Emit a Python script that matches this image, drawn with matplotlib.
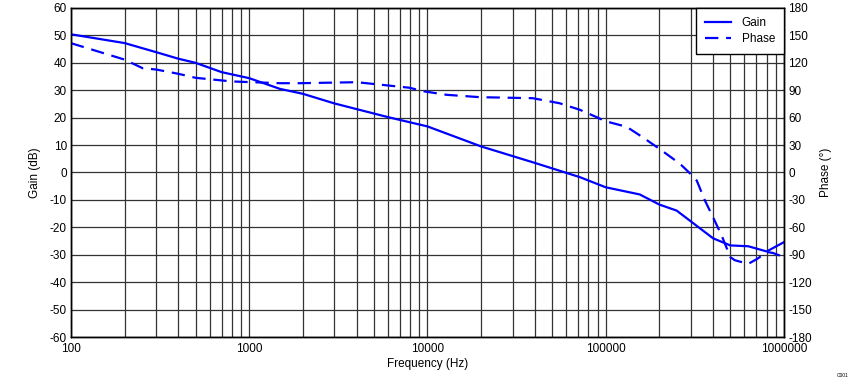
import matplotlib
matplotlib.use("Agg")
import matplotlib.pyplot as plt
from matplotlib.ticker import FixedLocator, NullFormatter

plt.rcParams['font.family'] = ['Liberation Sans', 'DejaVu Sans']
plt.rcParams['axes.unicode_minus'] = False

# gain curve (Hz, dB)
gain_f = [100, 200, 300, 400, 500, 700, 1000, 1486, 2000, 3000, 6000, 10000,
          20000, 40000, 71600, 100000, 155000, 200000, 250000, 304000, 400000,
          500000, 630000, 800000, 1000000]
gain_db = [50.4, 47.2, 43.9, 41.5, 40.0, 36.6, 34.4, 30.5, 28.7, 25.2, 20.2, 16.8,
           9.5, 3.5, -1.7, -5.4, -8.0, -11.7, -13.9, -18.1, -24.0,
           -26.6, -26.9, -28.8, -25.4]

# phase curve (Hz, degrees)
phase_f = [100, 200, 253, 300, 400, 500, 800, 1486, 1922, 4020, 7950, 9400, 12800,
           19700, 38900, 55000, 71600, 89000, 100000, 131000, 161000, 200000,
           261000, 296000, 324000, 360000, 400000, 447000, 500000, 530000, 630000,
           708000, 800000, 865000, 1000000]
phase_deg = [141.5, 123.5, 114.0, 112.7, 108.0, 103.6, 99.6, 97.7, 97.7, 98.8, 92.7,
             89.0, 85.0, 82.4, 81.3, 75.8, 68.6, 60.5, 56.0, 50.0, 38.6, 25.9,
             9.5, -0.7, -8.8, -30.6, -49.0, -69.0, -92.6, -96.0, -100.0,
             -94.5, -87.0, -88.0, -92.6]

x_ticks = [100, 1000, 10000, 100000, 1000000]
x_labels = ["100", "1000", "10000", "100000", "1000000"]
gain_ticks = list(range(-60, 61, 10))
phase_ticks = list(range(-180, 181, 30))

fig = plt.figure(figsize=(8.53, 3.82), dpi=100)
ax = fig.add_axes([0.0832, 0.1178, 0.8359, 0.8613])
ax2 = ax.twinx()

blue = "#0000ff"
grid_c = "#333333"

l1, = ax.plot(gain_f, gain_db, color=blue, lw=1.6, label="Gain")
l2, = ax2.plot(phase_f, phase_deg, color=blue, lw=1.6, dashes=(6, 3.5), label="Phase")

ax.set_xscale("log")
ax.set_xlim(100, 1000000)
ax.set_ylim(-60, 60)
ax2.set_ylim(-180, 180)

ax.xaxis.set_major_locator(FixedLocator(x_ticks))
ax.set_xticklabels(x_labels)
minor = [m * 10 ** d for d in range(2, 6) for m in range(2, 10)]
ax.xaxis.set_minor_locator(FixedLocator(minor))
ax.xaxis.set_minor_formatter(NullFormatter())
ax.set_yticks(gain_ticks)
ax2.set_yticks(phase_ticks)

ax.grid(True, which="both", axis="x", color=grid_c, lw=0.9)
ax.grid(True, which="major", axis="y", color=grid_c, lw=0.9)

for a in (ax, ax2):
    a.tick_params(which="both", length=0, labelsize=8.5, pad=3)
    for s in a.spines.values():
        s.set_color("black")
        s.set_linewidth(1.0)
ax.tick_params(axis="x", pad=4.5)

ax.set_xlabel("Frequency (Hz)", fontsize=8.5, labelpad=2)
ax.set_ylabel("Gain (dB)", fontsize=8.5, labelpad=6)
ax2.set_ylabel("Phase (°)", fontsize=8.5, labelpad=6)

leg = ax2.legend([l1, l2], ["Gain", "Phase"], loc="upper right", fontsize=8.5,
                 fancybox=False, framealpha=1, edgecolor="black",
                 borderaxespad=0, handlelength=2.2, borderpad=0.75,
                 labelspacing=0.35, handletextpad=0.9)
leg.get_frame().set_linewidth(1.0)

fig.text(0.995, 0.01, "C001", fontsize=3.5, ha="right", va="bottom")

fig.savefig("out.png", dpi=100)
